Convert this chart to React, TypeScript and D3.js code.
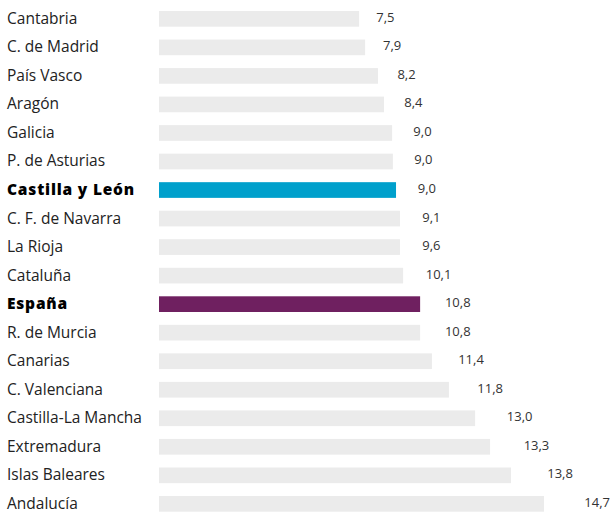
import React from "react";
import * as d3 from "d3";

const regions = [
  "Cantabria", "C. de Madrid", "País Vasco", "Aragón", "Galicia", "P. de Asturias",
  "Castilla y León", "C. F. de Navarra", "La Rioja", "Cataluña", "España", "R. de Murcia",
  "Canarias", "C. Valenciana", "Castilla-La Mancha", "Extremadura", "Islas Baleares", "Andalucía",
];
// displayed rates
const rateLabels = [
  "7,5", "7,9", "8,2", "8,4", "9,0", "9,0", "9,0", "9,1", "9,6", "10,1", "10,8", "10,8",
  "11,4", "11,8", "13,0", "13,3", "13,8", "14,7",
];
// bar lengths
const barValues = [
  7.64, 7.87, 8.36, 8.59, 8.9, 8.93, 9.05, 9.2, 9.2, 9.32, 9.97, 9.97,
  10.42, 11.07, 12.07, 12.64, 13.44, 14.7,
];
const highlightBlue = ["Castilla y León"];
const highlightPurple = ["España"];

const W = 610;
const H = 514;

export default function App() {
  const x = d3.scaleLinear().domain([0, 14.7]).range([159, 544]);
  const xLabel = d3.scaleLinear().domain([0, 15]).range([151, 593.2]);
  const y = d3
    .scaleBand<string>()
    .domain(regions)
    .range([11, 511.7])
    .paddingInner(0.45)
    .paddingOuter(0);
  const font = "'Open Sans', 'Noto Sans', sans-serif";
  return (
    <svg
      width={W}
      height={H}
      style={{ position: "absolute", left: 0, top: 0, background: "#fff" }}
    >
      {regions.map((r, i) => {
        const y0 = y(r) as number;
        const cy = y0 + y.bandwidth() / 2;
        const bold = highlightBlue.includes(r) || highlightPurple.includes(r);
        const fill = highlightBlue.includes(r)
          ? "#00a0cc"
          : highlightPurple.includes(r)
          ? "#6f2060"
          : "#ebebeb";
        return (
          <g key={r}>
            <text
              x={7}
              y={cy + 5}
              fontFamily={font}
              fontSize={15.5}
              fontWeight={bold ? 800 : 400}
              letterSpacing={bold ? 0.8 : 0}
              fill={bold ? "#000" : "#222"}
            >
              {r}
            </text>
            <rect x={x(0)} y={y0} width={x(barValues[i]) - x(0)} height={y.bandwidth()} fill={fill} />
            <text x={xLabel(barValues[i])} y={cy + 3} fontFamily={font} fontSize={13} fill="#333">
              {rateLabels[i]}
            </text>
          </g>
        );
      })}
    </svg>
  );
}
